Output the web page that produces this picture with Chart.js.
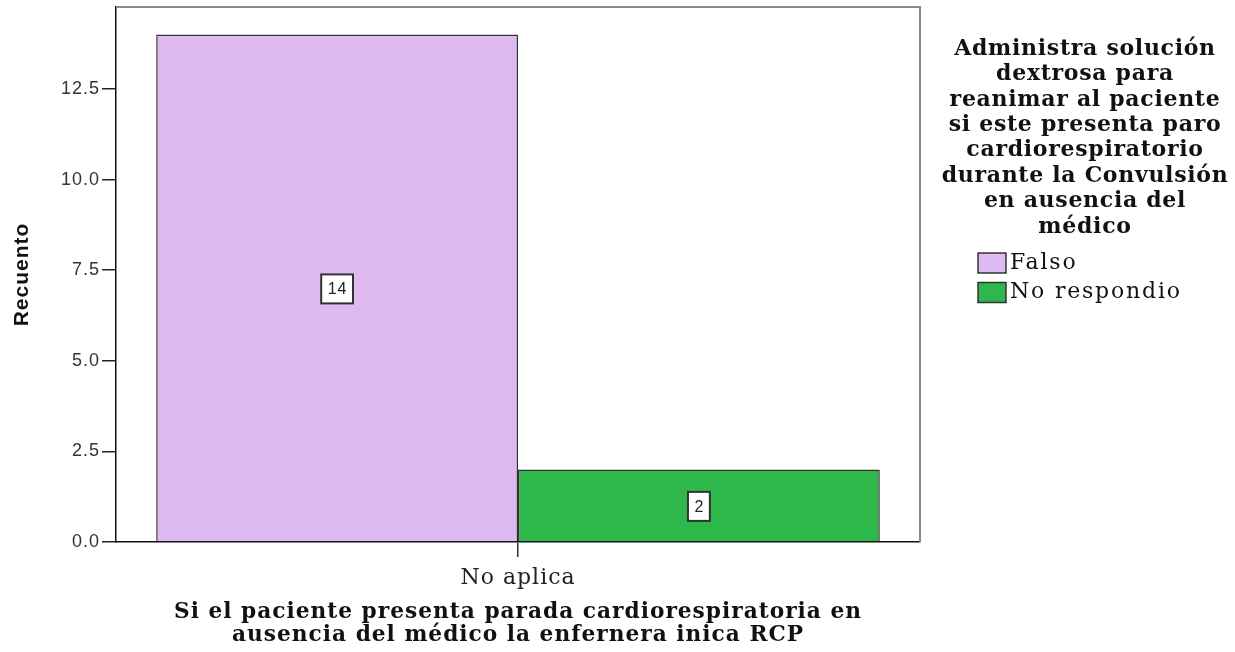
<!DOCTYPE html>
<html>
<head>
<meta charset="utf-8">
<script src="https://cdn.jsdelivr.net/npm/chart.js@4/dist/chart.umd.min.js"></script>
<style>
  html, body { margin: 0; padding: 0; background: #ffffff; }
  #wrap { width: 1235px; height: 652px; }
</style>
</head>
<body>
<div id="wrap"><canvas id="c" width="1235" height="652"></canvas></div>
<script>
// Categories, series and axis ticks
const categories = ['No aplica'];
const seriesNames = ['Falso', 'No respondio'];
const falsoCounts = [14];
const noRespondioCounts = [2];
const yTickValues = [0, 2.5, 5, 7.5, 10, 12.5];
const yMax = 14.76;

const xTitleLines = [
  'Si el paciente presenta parada cardiorespiratoria en',
  'ausencia del médico la enfernera inica RCP'
];
const legendTitleLines = [
  'Administra solución',
  'dextrosa para',
  'reanimar al paciente',
  'si este presenta paro',
  'cardiorespiratorio',
  'durante la Convulsión',
  'en ausencia del',
  'médico'
];

const seriesColors = ['#DFB9F2', '#2EB84B'];
const SERIF = '"DejaVu Serif", "Liberation Serif", serif';
const SANS = '"Liberation Sans", Arial, sans-serif';

// Slight letter spacing for the axis text
const spacing = {
  id: 'spacing',
  beforeUpdate(chart) { chart.ctx.letterSpacing = '1px'; },
  beforeLayout(chart) { chart.ctx.letterSpacing = '1px'; },
  beforeDraw(chart) { chart.ctx.letterSpacing = '1px'; }
};

// Value boxes centred inside each bar
const valueBoxes = {
  id: 'valueBoxes',
  afterDatasetsDraw(chart) {
    const ctx = chart.ctx;
    ctx.save();
    ctx.letterSpacing = '1px';
    ctx.font = '16px ' + SANS;
    ctx.textAlign = 'center';
    ctx.textBaseline = 'middle';
    chart.data.datasets.forEach((ds, di) => {
      const meta = chart.getDatasetMeta(di);
      meta.data.forEach((bar, i) => {
        const v = ds.data[i];
        if (v == null) return;
        const txt = String(v);
        const cx = bar.x;
        const cy = (bar.y + bar.base) / 2;
        const w = ctx.measureText(txt).width + 12;
        const h = 29;
        ctx.fillStyle = '#ffffff';
        ctx.fillRect(cx - w / 2, cy - h / 2 + 1, w, h);
        ctx.lineWidth = 2;
        ctx.strokeStyle = '#333333';
        ctx.strokeRect(cx - w / 2, cy - h / 2 + 1, w, h);
        ctx.fillStyle = '#222222';
        ctx.fillText(txt, cx + 0.5, cy + 2);
      });
    });
    ctx.restore();
  }
};

// Grey frame on the top and right of the plot area
const plotFrame = {
  id: 'plotFrame',
  afterDraw(chart) {
    const a = chart.chartArea;
    const ctx = chart.ctx;
    ctx.save();
    ctx.strokeStyle = '#8a8a8a';
    ctx.lineWidth = 2;
    ctx.beginPath();
    ctx.moveTo(a.left, a.top);
    ctx.lineTo(a.right, a.top);
    ctx.lineTo(a.right, a.bottom);
    ctx.stroke();
    ctx.restore();
  }
};

// Legend with a multi-line centred title on the right
const sideLegend = {
  id: 'sideLegend',
  afterDraw(chart) {
    const ctx = chart.ctx;
    ctx.save();
    ctx.letterSpacing = '0.7px';
    ctx.fillStyle = '#111111';
    ctx.textAlign = 'center';
    ctx.textBaseline = 'middle';
    ctx.font = 'bold 22px ' + SERIF;
    const cx = 1085;
    legendTitleLines.forEach((line, i) => {
      ctx.fillText(line, cx, 49 + i * 25.4);
    });
    ctx.textAlign = 'left';
    ctx.letterSpacing = '1.8px';
    ctx.font = '22px ' + SERIF;
    chart.data.datasets.forEach((ds, i) => {
      const top = 253 + i * 29.5;
      ctx.fillStyle = ds.backgroundColor;
      ctx.fillRect(978, top, 28, 20);
      ctx.strokeStyle = '#333333';
      ctx.lineWidth = 1.5;
      ctx.strokeRect(978, top, 28, 20);
      ctx.fillStyle = '#111111';
      ctx.fillText(ds.label, 1010, top + 10);
    });
    ctx.restore();
  }
};

new Chart(document.getElementById('c'), {
  type: 'bar',
  data: {
    labels: categories,
    datasets: [
      { label: seriesNames[0], data: falsoCounts, backgroundColor: seriesColors[0],
        borderColor: '#333333', borderWidth: 1.5 },
      { label: seriesNames[1], data: noRespondioCounts, backgroundColor: seriesColors[1],
        borderColor: '#333333', borderWidth: 1.5 }
    ]
  },
  options: {
    responsive: false,
    animation: false,
    devicePixelRatio: 1,
    layout: { padding: { left: 0, top: 7, right: 315, bottom: 0 } },
    datasets: { bar: { categoryPercentage: 0.9, barPercentage: 1.0 } },
    plugins: {
      legend: { display: false },
      tooltip: { enabled: false }
    },
    scales: {
      x: {
        offset: true,
        grid: { display: true, drawOnChartArea: false, drawTicks: true, offset: false,
                tickLength: 15, color: '#333333', lineWidth: 1.5 },
        border: { display: true, color: '#111111', width: 1.5 },
        ticks: { color: '#222222', padding: 8, font: { family: SERIF, size: 22 } },
        title: { display: true, text: xTitleLines, color: '#111111',
                 font: { family: SERIF, size: 21.7, weight: 'bold', lineHeight: 1.02 },
                 padding: { top: 0, bottom: 6 } },
        afterFit(scale) { scale.height = 110; }
      },
      y: {
        min: 0,
        max: yMax,
        afterBuildTicks(scale) { scale.ticks = yTickValues.map(v => ({ value: v })); },
        grid: { display: true, drawOnChartArea: false, drawTicks: true,
                tickLength: 14, color: '#222222', lineWidth: 1.5 },
        border: { display: true, color: '#111111', width: 1.5 },
        ticks: { color: '#333333', padding: 2, font: { family: SANS, size: 18 },
                 callback: v => Number(v).toFixed(1) },
        title: { display: true, text: 'Recuento', color: '#111111',
                 font: { family: SANS, size: 21, weight: 'bold' }, padding: { top: 10 } },
        afterFit(scale) {
          scale.width = 116;
          scale.paddingTop = 0;
          scale.paddingBottom = 0;
        }
      }
    }
  },
  plugins: [spacing, valueBoxes, plotFrame, sideLegend]
});
</script>
</body>
</html>
